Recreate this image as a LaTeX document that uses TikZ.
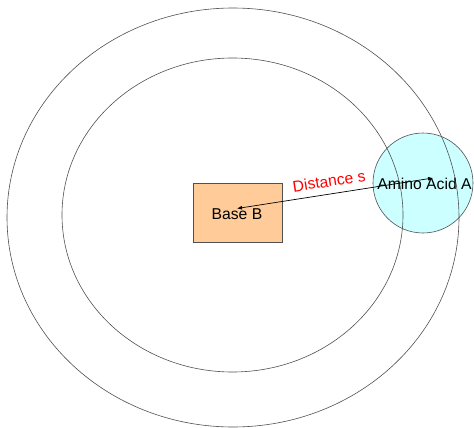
\documentclass[tikz,border=0pt]{standalone}
\usepackage{fontspec}
\setmainfont{Liberation Sans}
\usetikzlibrary{shapes.geometric,arrows.meta}
\definecolor{ringline}{HTML}{505050}
\definecolor{basefill}{HTML}{FFCC99}
\definecolor{aminofill}{HTML}{CCFFFF}
\tikzset{
  ring/.style={draw=ringline, line width=0.6pt, ellipse, inner sep=0pt},
  basebox/.style={draw=ringline, fill=basefill, line width=0.6pt, inner sep=0pt, minimum width=89pt, minimum height=59pt},
  aminocircle/.style={draw=ringline, fill=aminofill, line width=0.6pt, circle, inner sep=0pt, minimum size=100pt},
  lbl/.style={font=\fontsize{15.7}{18}\selectfont, inner sep=0pt},
  dist/.style={line width=0.7pt, {Latex[length=5pt,width=4pt]}-{Latex[length=5pt,width=4pt]}}
}
\begin{document}
\begin{tikzpicture}[x=1pt,y=-1pt]
\useasboundingbox (0,0) rectangle (474,428);
\node[aminocircle] (amino) at (423,183) {};
\node[ring, minimum width=452pt, minimum height=419pt] (outer) at (233,217.5) {};
\node[ring, minimum width=341pt, minimum height=314pt] (inner) at (232.5,215) {};
\node[basebox] (base) at (237.5,212.5) {};
\node[lbl] (basetxt) at (237,214) {Base B};
\node[lbl] (aminotxt) at (424.5,184) {Amino Acid A};
\coordinate (pB) at (237,208.5);
\coordinate (pA) at (433,178);
\draw[dist] (pB) -- (pA);
\node[lbl, text=red, rotate=8.8] (disttxt) at (329,181) {Distance s};
\end{tikzpicture}
\end{document}
